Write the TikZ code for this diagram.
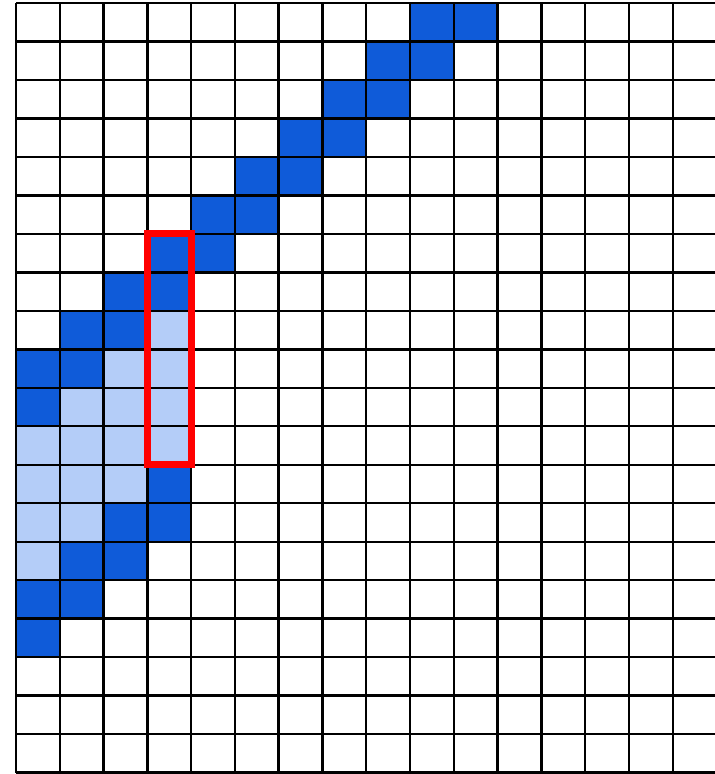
\documentclass[tikz,border=0pt]{standalone}
\definecolor{darkcell}{RGB}{15,91,217}
\definecolor{lightcell}{RGB}{180,205,248}
\definecolor{redbox}{RGB}{255,0,0}
\begin{document}
\begin{tikzpicture}[x=43.78pt,y=-38.48pt,
  dcell/.style={fill=darkcell},
  lcell/.style={fill=lightcell},
  gridline/.style={line width=2.4pt,black},
  hilite/.style={draw=redbox,line width=7pt}]
\useasboundingbox (-0.3655,-0.078) rectangle (15.943,20.036);
\fill[white] (-0.3655,-0.078) rectangle (15.943,20.036);
% dark cells (col,row)
\foreach \c/\r in {9/0,10/0,8/1,9/1,7/2,8/2,6/3,7/3,5/4,6/4,4/5,5/5,3/6,4/6,2/7,3/7,1/8,2/8,0/9,1/9,0/10,3/12,2/13,3/13,1/14,2/14,0/15,1/15,0/16}
  \path[dcell] (\c,\r) rectangle ++(1,1);
% light cells
\foreach \c/\r in {3/8,2/9,3/9,1/10,2/10,3/10,0/11,1/11,2/11,3/11,0/12,1/12,2/12,0/13,1/13,0/14}
  \path[lcell] (\c,\r) rectangle ++(1,1);
% grid
\foreach \c in {0,...,16} \draw[gridline] (\c,0) -- (\c,20);
\foreach \r in {0,...,20} \draw[gridline] (0,\r) -- (16,\r);
% highlight
\coordinate (hA) at (3,6);
\coordinate (hB) at (4,12);
\draw[hilite] (hA) rectangle (hB);
\end{tikzpicture}
\end{document}
